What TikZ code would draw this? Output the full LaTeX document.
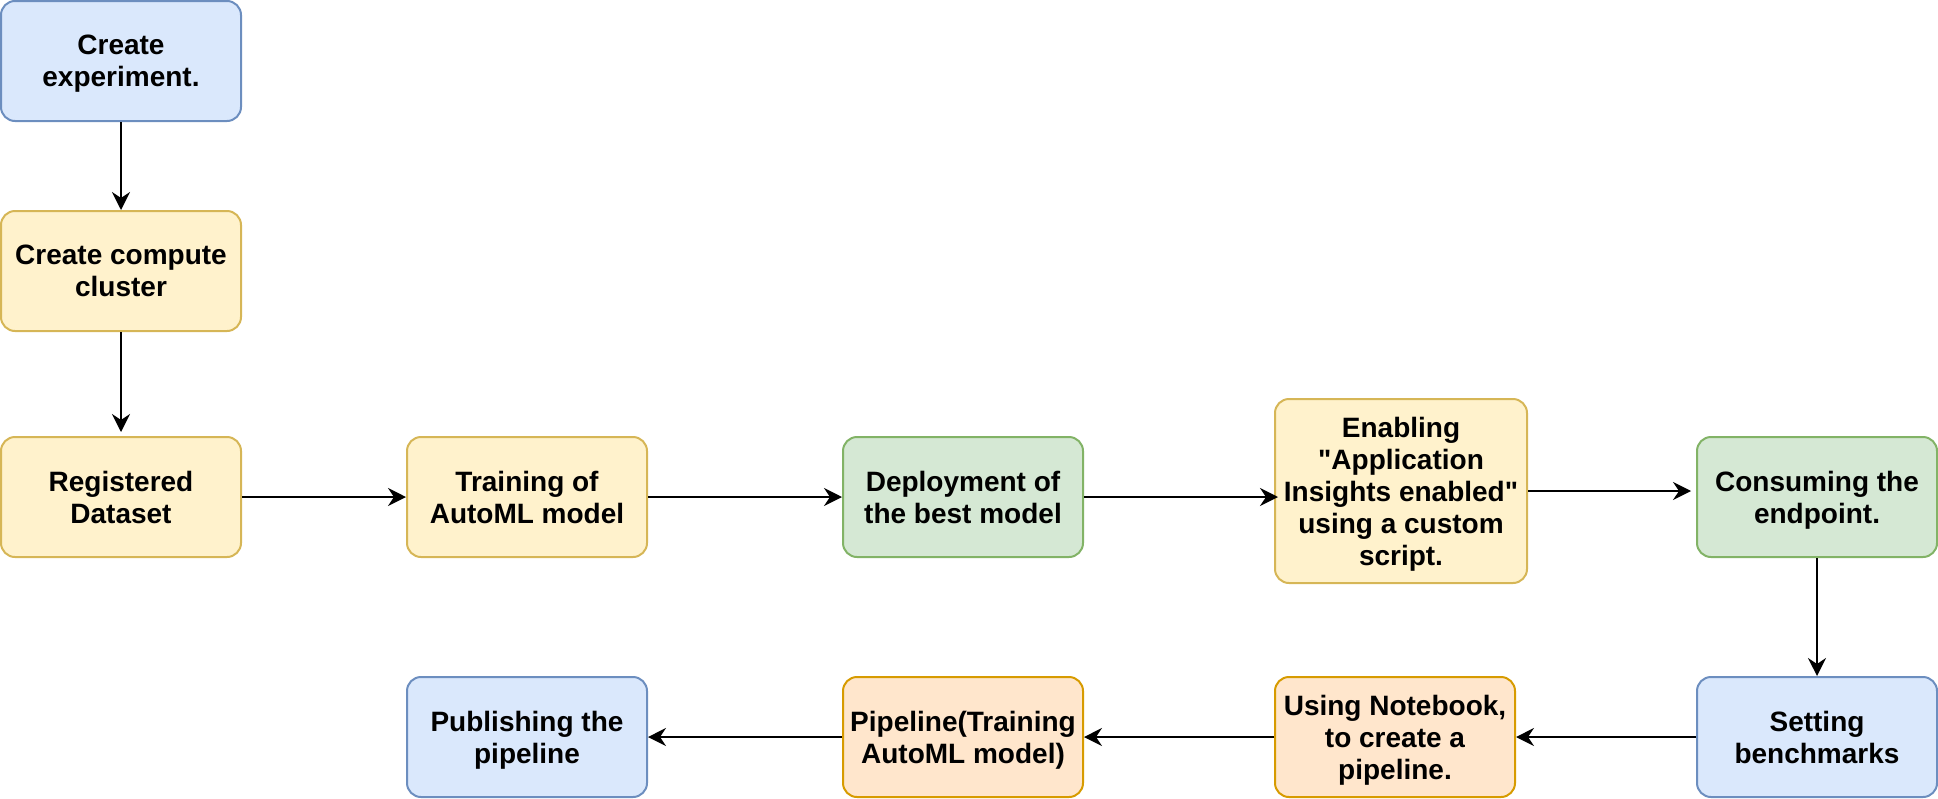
\documentclass[tikz,border=0pt]{standalone}
\usepackage{fontspec}
\setmainfont{Liberation Sans}
\usetikzlibrary{arrows.meta}
\definecolor{bluefill}{HTML}{DAE8FC}
\definecolor{blueline}{HTML}{6C8EBF}
\definecolor{yellowfill}{HTML}{FFF2CC}
\definecolor{yellowline}{HTML}{D6B656}
\definecolor{greenfill}{HTML}{D5E8D4}
\definecolor{greenline}{HTML}{82B366}
\definecolor{orangefill}{HTML}{FFE6CC}
\definecolor{orangeline}{HTML}{D79B00}
\begin{document}
\begin{tikzpicture}[x=0.5pt,y=-0.5pt,
  box/.style={draw,rounded corners=7pt,line width=1pt,minimum width=120pt,minimum height=60pt,
    inner sep=2pt,align=center,text depth=0pt,
    font=\bfseries\fontsize{14}{16}\selectfont},
  bluebox/.style={box,fill=bluefill,draw=blueline},
  yellowbox/.style={box,fill=yellowfill,draw=yellowline},
  greenbox/.style={box,fill=greenfill,draw=greenline},
  orangebox/.style={box,fill=orangefill,draw=orangeline},
  arr/.style={-{Stealth[length=9pt,width=9pt,inset=3pt]},line width=1pt}]
\useasboundingbox (0,0) rectangle (1938,798);
\node[bluebox] (exp) at (121,61) {Create\\experiment.};
\node[yellowbox] (cluster) at (121,271) {Create compute\\cluster};
\node[yellowbox] (reg) at (121,497) {Registered\\Dataset};
\node[yellowbox] (train) at (527,497) {Training of\\AutoML model};
\node[greenbox] (deploy) at (963,497) {Deployment of\\the best model};
\node[yellowbox,minimum width=126pt,minimum height=92pt] (enable) at (1401,491)
  {Enabling\\\textquotedbl Application\\Insights enabled\textquotedbl\\using a custom\\script.};
\node[greenbox] (consume) at (1817,497) {Consuming the\\endpoint.};
\node[bluebox] (bench) at (1817,737) {Setting\\benchmarks};
\node[orangebox] (notebook) at (1395,737) {Using Notebook,\\to create a\\pipeline.};
\node[orangebox] (pipe) at (963,737) {Pipeline(Training\\AutoML model)};
\node[bluebox] (publish) at (527,737) {Publishing the\\pipeline};
\draw[arr] (exp) -- (cluster);
\draw[arr,shorten >=2pt] (cluster) -- (reg);
\draw[arr] (reg) -- (train);
\draw[arr] (train) -- (deploy);
\draw[arr,shorten >=-2pt] (deploy.east) -- (deploy.east -| enable.west);
\draw[arr,shorten >=2.5pt] (enable.east) -- (enable.east -| consume.west);
\draw[arr] (consume) -- (bench);
\draw[arr] (bench) -- (notebook);
\draw[arr] (notebook) -- (pipe);
\draw[arr] (pipe) -- (publish);
\end{tikzpicture}
\end{document}
